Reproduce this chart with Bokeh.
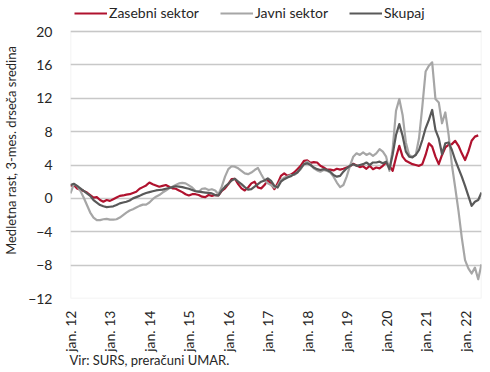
import math
from bokeh.plotting import figure
from bokeh.models import (ColumnDataSource, Range1d, FixedTicker, Legend, LegendItem,
                          Title, BoxAnnotation)
from bokeh.embed import file_html
from bokeh.resources import INLINE

NAN = float("nan")

# Monthly data, Jan 2012 - Jun 2022 (index 0 = jan. 12)
zasebni = [1.5, 1.6, 1.2, 1.05, 0.9, 0.7, 0.4, 0.1, 0.15, -0.2, -0.4, -0.2,
           -0.3, -0.1, 0.1, 0.3, 0.35, 0.45, 0.5, 0.65, 0.8, 1.15, 1.35, 1.55,
           1.9, 1.7, 1.55, 1.4, 1.5, 1.6, 1.4, 1.2, 1.15, 0.95, 0.75, 0.5,
           0.35, 0.5, 0.5, 0.4, 0.2, 0.15, 0.4, 0.3, 0.4, 0.35, 0.9, 1.2,
           1.7, 2.3, 2.35, 1.7, 1.2, 0.95, 1.3, 1.8, 2.0, 1.3, 1.2, 1.6,
           2.2, 1.7, 1.1, 1.8, 2.7, 3.0, 2.7, 2.85, 3.1, 3.5, 3.9, 4.5,
           4.55, 4.25, 4.35, 4.3, 3.9, 3.7, 3.45, 3.45, 3.35, 3.55, 3.45, 3.55,
           3.7, 3.85, 4.15, 3.95, 3.75, 3.85, 3.55, 3.9, 3.5, 3.7, 3.6, 3.9,
           4.3, 3.9, 3.3, 4.9, 6.3, 5.0, 4.5, 4.3, 4.1, 4.0, 3.9, 4.1,
           5.2, 6.6, 6.2, 5.0, 4.1, 5.2, 6.1, 6.4, 6.5, 6.9, 6.3, 5.4,
           4.6, 5.6, 6.9, 7.4, 7.55, NAN]

javni = [0.6, 1.7, 1.5, 0.9, 0.1, -0.8, -1.7, -2.3, -2.6, -2.6, -2.5, -2.45,
         -2.55, -2.55, -2.5, -2.3, -2.0, -1.7, -1.45, -1.3, -1.1, -0.9, -0.75, -0.75,
         -0.5, -0.1, 0.2, 0.4, 0.7, 0.95, 1.2, 1.4, 1.6, 1.8, 1.85, 1.8,
         1.55, 1.3, 0.9, 0.8, 1.15, 1.2, 1.0, 1.1, 0.95, 0.5, 1.4, 2.6,
         3.5, 3.85, 3.8, 3.6, 3.3, 3.0, 2.9, 3.1, 3.4, 3.65, 2.9, 2.2,
         1.8, 1.6, 1.3, 1.5, 2.2, 2.5, 2.6, 2.8, 2.8, 3.1, 3.5, 4.1,
         4.4, 4.1, 3.6, 3.35, 3.2, 3.4, 3.3, 3.1, 2.6, 1.9, 1.35, 1.6,
         2.6, 3.9, 5.0, 5.4, 5.2, 5.5, 5.2, 5.4, 5.1, 5.4, 5.9, 5.6,
         5.0, 3.3, 6.0, 10.5, 11.9, 10.0, 6.7, 5.2, 5.0, 5.2, 7.2, 11.0,
         15.2, 15.9, 16.3, 11.9, 11.5, 9.0, 10.3, 7.6, 4.0, 1.3, -1.5, -4.7,
         -7.4, -8.4, -9.0, -8.3, -9.7, -7.9]

skupaj = [1.6, 1.75, 1.5, 1.2, 0.9, 0.6, 0.3, -0.2, -0.5, -0.8, -0.95, -1.05,
          -1.0, -0.95, -0.8, -0.6, -0.5, -0.4, -0.25, 0.0, 0.15, 0.3, 0.5, 0.65,
          0.75, 0.85, 0.95, 1.0, 1.05, 1.15, 1.25, 1.35, 1.45, 1.4, 1.35, 1.25,
          1.15, 1.0, 0.85, 0.8, 0.75, 0.7, 0.65, 0.6, 0.4, 0.35, 0.95, 1.4,
          1.75, 2.15, 2.35, 2.0, 1.7, 1.35, 1.05, 1.1, 1.4, 1.7, 2.0, 2.15,
          2.4, 2.1, 1.5, 1.3, 2.0, 2.3, 2.5, 2.65, 2.9, 3.1, 3.6, 4.1,
          4.2, 4.0, 3.7, 3.5, 3.4, 3.5, 3.4, 3.2, 2.8, 2.6, 2.7, 3.2,
          3.6, 3.9, 4.1, 3.9, 4.0, 4.1, 4.3, 4.0, 4.3, 4.3, 4.4, 4.2,
          4.4, 3.5, 5.3, 7.6, 8.9, 7.5, 5.6, 5.0, 4.9, 5.2, 5.8, 7.0,
          8.4, 9.4, 10.6, 8.2, 7.2, 5.3, 6.6, 6.7, 5.8, 4.6, 3.6, 2.6,
          1.5, 0.3, -0.9, -0.4, -0.2, 0.7]

series_names = ["Zasebni sektor", "Javni sektor", "Skupaj"]
series_colors = ["#B0122E", "#A6A6A6", "#595959"]

tick_positions = [0, 12, 24, 36, 48, 60, 72, 84, 96, 108, 120]
tick_labels = ["jan. 12", "jan. 13", "jan. 14", "jan. 15", "jan. 16", "jan. 17",
               "jan. 18", "jan. 19", "jan. 20", "jan. 21", "jan. 22"]
y_ticks = [-12, -8, -4, 0, 4, 8, 12, 16, 20]
Y_MIN, Y_MAX = -12, 20

y_title = "Medletna rast, 3-mes. drseča sredina"
source_note = "Vir: SURS, preračuni UMAR."

FONT = "Lato"
TEXT_COLOR = "#262626"
GRID_COLOR = "#C8C8C8"

# layout (pixels)
PLOT_H = 267          # height of the value area (-12 .. 20)
HEADROOM = 29         # room above the value area for the legend
px_per_unit = PLOT_H / (Y_MAX - Y_MIN)

months = list(range(len(javni)))
src = ColumnDataSource(dict(m=months, zasebni=zasebni, javni=javni, skupaj=skupaj))

p = figure(width=482, height=370, output_backend="svg", toolbar_location=None,
           title_location=None,
           x_range=Range1d(0, len(javni) - 1),
           y_range=Range1d(Y_MIN, Y_MAX + HEADROOM / px_per_unit),
           min_border_left=63, min_border_right=1, min_border_top=2,
           min_border_bottom=72)
p.background_fill_color = "white"
p.border_fill_color = "white"
p.outline_line_color = None

p.xgrid.grid_line_color = None
p.ygrid.grid_line_color = GRID_COLOR
p.ygrid.grid_line_width = 1.5
p.ygrid.ticker = FixedTicker(ticks=y_ticks)

# border of the value area
p.add_layout(BoxAnnotation(left=0, right=len(javni) - 1, bottom=Y_MIN, top=Y_MAX,
                           fill_alpha=0, line_color=GRID_COLOR, line_width=1.5))

renderers = []
for col, color in zip(["zasebni", "javni", "skupaj"], series_colors):
    r = p.line("m", col, source=src, line_color=color, line_width=2.2,
               line_join="round")
    renderers.append(r)

# y axis
p.yaxis.ticker = FixedTicker(ticks=y_ticks)
p.yaxis.axis_line_color = None
p.yaxis.major_tick_line_color = None
p.yaxis.minor_tick_line_color = None
p.yaxis.major_label_standoff = 12
p.yaxis.major_label_text_font = FONT
p.yaxis.major_label_text_font_size = "14px"
p.yaxis.major_label_text_color = TEXT_COLOR
p.yaxis.axis_label = y_title
p.yaxis.axis_label_text_font = FONT
p.yaxis.axis_label_text_font_size = "13px"
p.yaxis.axis_label_text_font_style = "normal"
p.yaxis.axis_label_text_color = TEXT_COLOR
p.yaxis.axis_label_standoff = 6

# x axis
p.xaxis.ticker = FixedTicker(ticks=tick_positions)
p.xaxis.major_label_overrides = {pos: lab for pos, lab in zip(tick_positions, tick_labels)}
p.xaxis.major_label_orientation = math.pi / 2
p.xaxis.axis_line_color = None
p.xaxis.major_tick_line_color = None
p.xaxis.minor_tick_line_color = None
p.xaxis.major_label_standoff = 6
p.xaxis.major_label_text_font = FONT
p.xaxis.major_label_text_font_size = "14px"
p.xaxis.major_label_text_color = TEXT_COLOR

legend = Legend(items=[LegendItem(label=n, renderers=[r]) for n, r in zip(series_names, renderers)],
                orientation="horizontal", location=(4, PLOT_H + 10),
                glyph_width=33, glyph_height=16, label_height=16, label_standoff=2,
                spacing=21, padding=0, margin=0,
                border_line_color=None, background_fill_alpha=0,
                label_text_font=FONT, label_text_font_size="14px",
                label_text_color=TEXT_COLOR)
p.add_layout(legend, "center")

note = Title(text=source_note, align="left", offset=-1, standoff=-9,
             text_font=FONT, text_font_size="13px", text_font_style="normal",
             text_color=TEXT_COLOR)
p.add_layout(note, "below")

open("out.html", "w").write(file_html(p, INLINE))
